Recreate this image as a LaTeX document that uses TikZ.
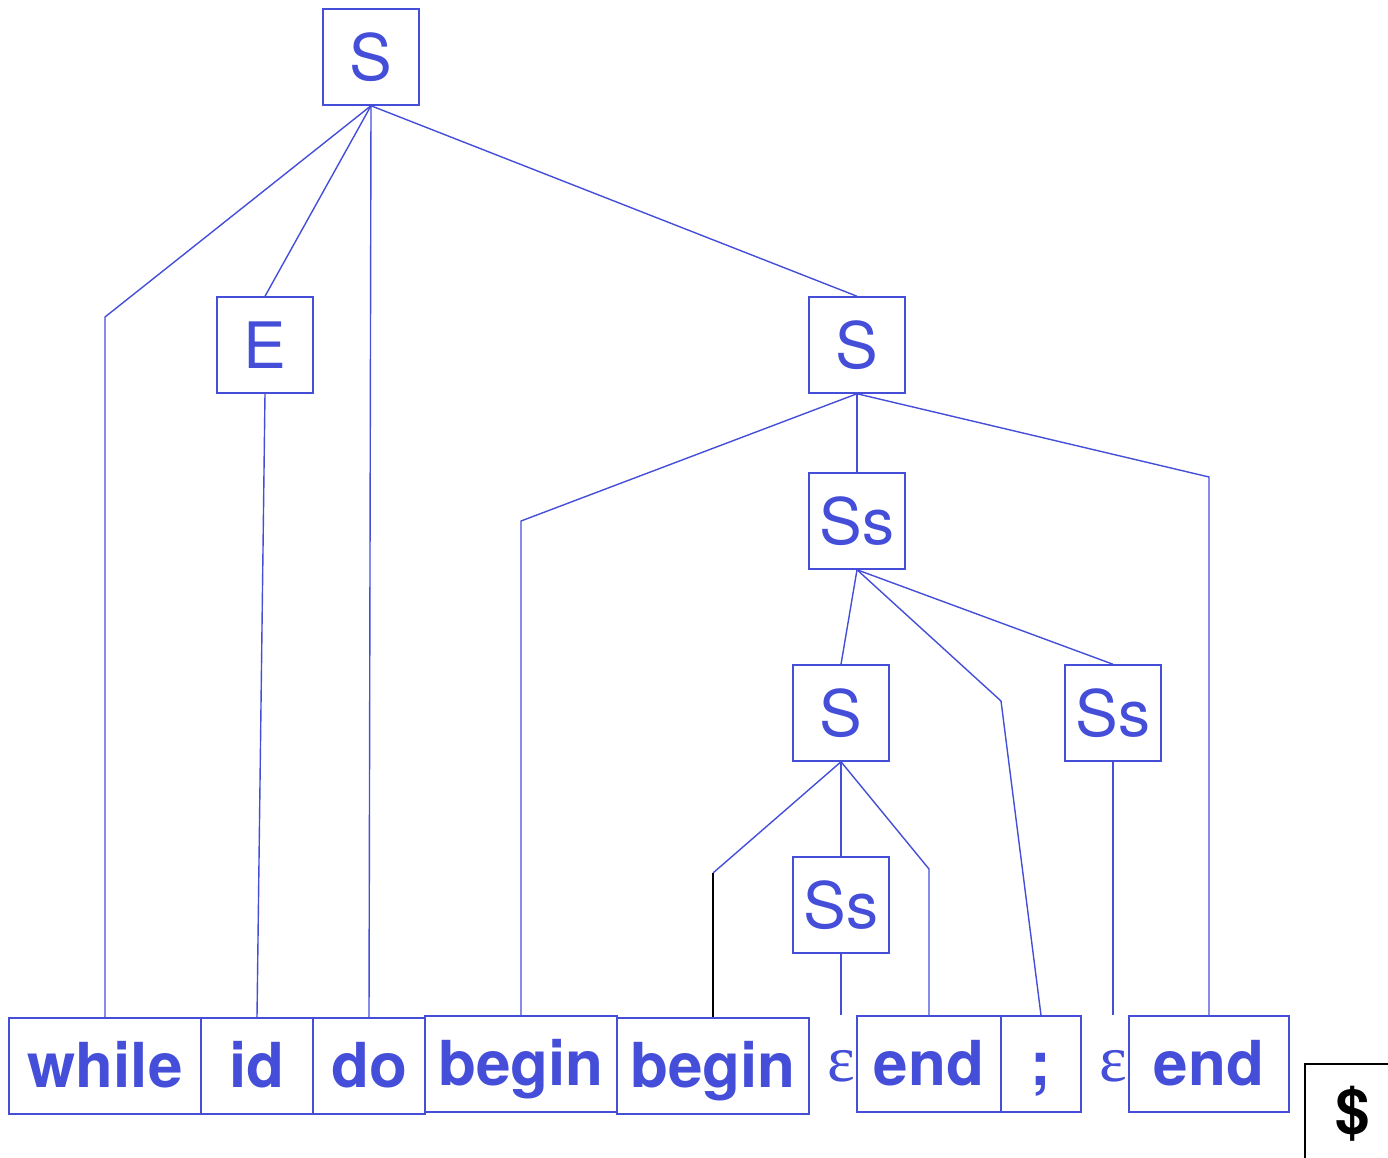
\documentclass[tikz,border=0pt]{standalone}
\usepackage{fontspec}
\setmainfont{TeX Gyre Heros}
\newfontfamily\greekfont{Liberation Serif}
\definecolor{treeblue}{RGB}{68,78,216}
\begin{document}
\begin{tikzpicture}[
        x=1pt, y=-1pt,
        tree box/.style={
            draw=treeblue,
            line width=1.5pt,
            text=treeblue,
            minimum width=96pt,
            minimum height=96pt,
            inner sep=0pt,
            font=\fontsize{64}{70}\selectfont
        },
        token box/.style={
            tree box,
            text height=46pt,
            text depth=4pt,
            font=\fontsize{62}{70}\selectfont\bfseries
        },
        empty word/.style={
            text=treeblue,
            inner sep=0pt,
            font=\greekfont\fontsize{66}{70}\selectfont
        },
        tree edge/.style={
            draw=treeblue,
            line width=1.4pt
        }
    ]
        \useasboundingbox (0,0) rectangle (1388,1158);

        % nonterminals
        \node[tree box] (top) at (371,57) {S};
        \node[tree box] (cond) at (265,345) {E};
        \node[tree box] (body) at (857,345) {S};
        \node[tree box] (list) at (857,521) {Ss};
        \node[tree box] (inner) at (841,713) {S};
        \node[tree box] (rest) at (1113,713) {Ss};
        \node[tree box] (empty list) at (841,905) {Ss};

        % tokens
        \node[token box, minimum width=192pt] (while) at (105,1066) {while};
        \node[token box, minimum width=112pt] (id) at (257,1066) {id};
        \node[token box, minimum width=112pt] (do) at (369,1066) {do};
        \node[token box, minimum width=192pt] (begin outer) at (521,1064) {begin};
        \node[token box, minimum width=192pt] (begin inner) at (713,1066) {begin};
        \node[empty word] (eps inner) at (841,1066) {ε};
        \node[token box, minimum width=144pt] (end inner) at (929,1064) {end};
        \node[token box, minimum width=80pt] (semi) at (1041,1064) {;};
        \node[empty word] (eps outer) at (1113,1066) {ε};
        \node[token box, minimum width=160pt] (end outer) at (1209,1064) {end};
        \node[token box, draw=black, text=black] (dollar) at (1353,1112) {\$};

        \coordinate (semi bend) at (1001,701);

        \draw[tree edge] (top.south) -- (while.north |- 0,317) -- (while.north);
        \draw[tree edge] (top.south) -- (cond.north);
        \draw[tree edge] (top.south) -- (do.north);
        \draw[tree edge] (top.south) -- (body.north);
        \draw[tree edge] (cond.south) -- (id.north);
        \draw[tree edge] (body.south) -- (begin outer.north |- 0,521) -- (begin outer.north);
        \draw[tree edge] (body.south) -- (list.north);
        \draw[tree edge] (body.south) -- (end outer.north |- 0,477) -- (end outer.north);
        \draw[tree edge] (list.south) -- (inner.north);
        \draw[tree edge] (list.south) -- (semi bend) -- (semi.north);
        \draw[tree edge] (list.south) -- (rest.north);
        \draw[tree edge] (inner.south) -- (begin inner.north |- 0,873) coordinate (begin bend);
        \draw[line width=1.4pt] (begin bend) -- (begin inner.north);
        \draw[tree edge] (inner.south) -- (empty list.north);
        \draw[tree edge] (inner.south) -- (end inner.north |- 0,869) -- (end inner.north);
        \draw[tree edge] (empty list.south) -- (eps inner |- end inner.north);
        \draw[tree edge] (rest.south) -- (eps outer |- end outer.north);
    \end{tikzpicture}
\end{document}
